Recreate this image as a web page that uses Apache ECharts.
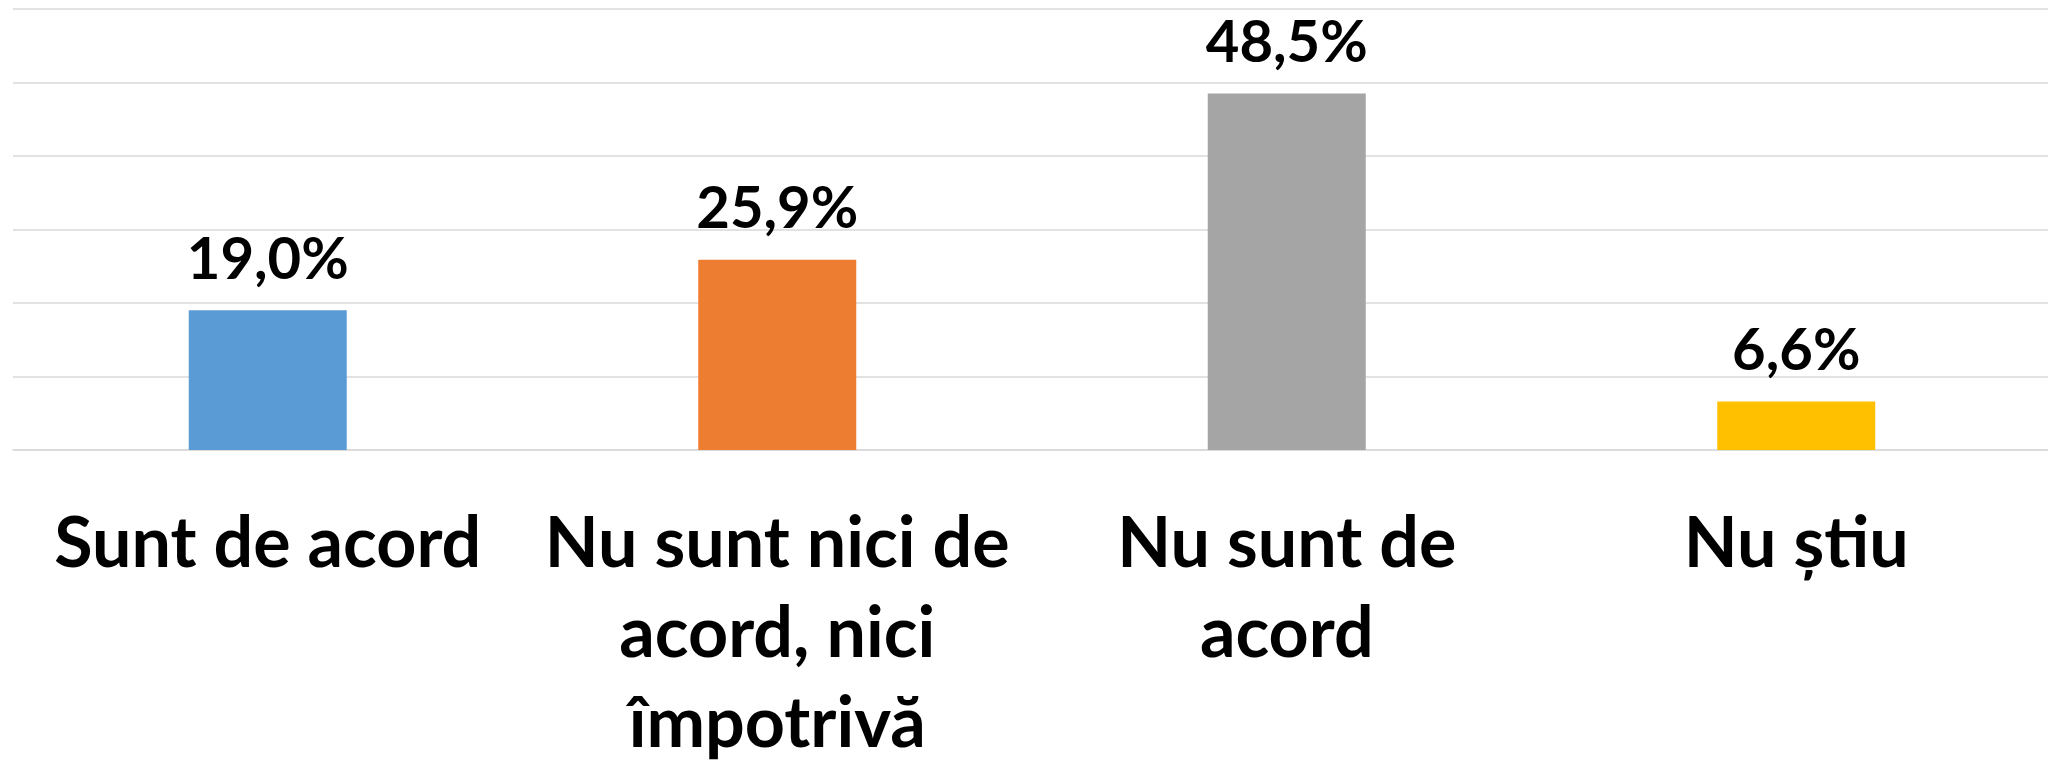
<!DOCTYPE html>
<html>
<head>
<meta charset="utf-8">
<script src="https://cdn.jsdelivr.net/npm/echarts@6/dist/echarts.min.js"></script>
<style>
    html, body { margin: 0; padding: 0; background: #fff; }
    .box1 { width: 2048px; height: 762px; }
</style>
</head>
<body>
<div class="box1"></div>
<script>
// categorii (axa x)
var categories = ['Sunt de acord', 'Nu sunt nici de\nacord, nici\nîmpotrivă', 'Nu sunt de\nacord', 'Nu știu']
// procente
var values = [19.0, 25.9, 48.5, 6.6]
// culori bare
var barColors = ['#5B9BD5', '#ED7D31', '#A5A5A5', '#FFC000']

var box1 = document.getElementsByClassName("box1")[0]
var MyEcharts1 = echarts.init(box1)

var seriesData = []
for (var i = 0; i < values.length; i++) {
    seriesData.push({
        value: values[i],
        itemStyle: { color: barColors[i] }
    })
}

var option = {
    animation: false,
    grid: {
        left: 13,
        top: 9,
        width: 2038,
        height: 441,
        outerBoundsMode: 'none' // nu micsora grila pentru etichete
    },
    xAxis: {
        type: 'category',
        data: categories,
        axisLine: { lineStyle: { color: '#D9D9D9', width: 1.5 } },
        axisTick: { show: false },
        axisLabel: {
            interval: 0,
            margin: 49,
            color: '#000',
            fontFamily: 'Lato',
            fontWeight: 'bold',
            fontSize: 70,
            lineHeight: 90,
            verticalAlign: 'top'
        }
    },
    yAxis: {
        type: 'value',
        min: 0,
        max: 60,
        interval: 10,
        axisLabel: { show: false },
        axisLine: { show: false },
        axisTick: { show: false },
        splitLine: { lineStyle: { color: '#D9D9D9', width: 1.5 } }
    },
    series: [{
        type: 'bar',
        barWidth: 158,
        data: seriesData,
        label: {
            show: true,
            position: 'top',
            distance: 21,
            color: '#000',
            fontFamily: 'Lato',
            fontWeight: 'bold',
            fontSize: 58,
            lineHeight: 58,
            formatter: function (p) {
                return p.value.toFixed(1).replace('.', ',') + '%'
            }
        }
    }]
}

MyEcharts1.setOption(option)
</script>
</body>
</html>
